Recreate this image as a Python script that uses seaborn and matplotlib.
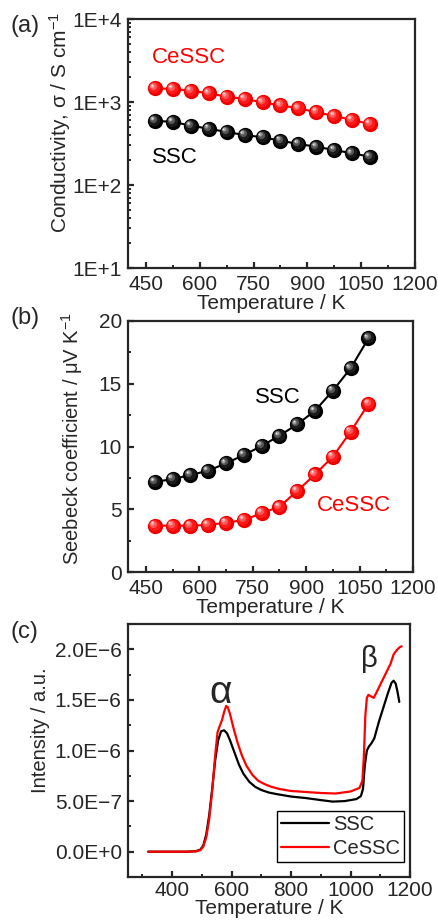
import numpy as np
import pandas as pd
import matplotlib
matplotlib.use("Agg")
import matplotlib.pyplot as plt
import matplotlib.transforms as mtransforms
from matplotlib.ticker import FixedLocator, MultipleLocator, FuncFormatter, LogLocator, NullFormatter
import seaborn as sns

# ---------------- data ----------------
temp_ab = [475, 525, 575, 625, 675, 725, 775, 825, 875, 925, 975, 1025, 1075]
cond_cessc = [1462, 1435, 1368, 1273, 1159, 1087, 991, 912, 840, 752, 678, 607, 543]
cond_ssc = [590, 579, 518, 477, 435, 400, 376, 342, 312, 289, 264, 241, 219]
seeb_ssc = [7.19, 7.39, 7.73, 8.07, 8.66, 9.32, 10.04, 10.86, 11.77, 12.85, 14.45, 16.23, 18.62]
seeb_cessc = [3.69, 3.69, 3.69, 3.75, 3.93, 4.14, 4.68, 5.20, 6.45, 7.78, 9.19, 11.18, 13.39]

tpr_x_ssc = [320, 450, 480, 495, 505, 515, 525, 535, 545, 555, 565, 575, 585, 595, 610, 625,
             640, 660, 680, 700, 725, 750, 800, 850, 900, 940, 980, 1020, 1035, 1042, 1048,
             1055, 1062, 1070, 1080, 1095, 1110, 1125, 1138, 1145, 1152, 1158, 1164]
tpr_y_ssc = [0, 0, 0.005, 0.02, 0.06, 0.17, 0.36, 0.62, 0.90, 1.10, 1.19, 1.20, 1.17, 1.10, 0.98, 0.86,
             0.77, 0.69, 0.64, 0.61, 0.585, 0.57, 0.545, 0.53, 0.51, 0.495, 0.50, 0.52, 0.55, 0.62, 0.85,
             1.00, 1.04, 1.07, 1.12, 1.28, 1.42, 1.56, 1.67, 1.69, 1.66, 1.58, 1.48]
tpr_x_cessc = [320, 450, 480, 495, 505, 515, 525, 535, 545, 553, 560, 568, 575, 582, 587, 595, 605,
               620, 635, 650, 670, 690, 710, 730, 760, 800, 850, 900, 950, 1000, 1030, 1040, 1045,
               1050, 1055, 1060, 1066, 1072, 1078, 1085, 1095, 1105, 1115, 1125, 1135, 1145, 1155,
               1165, 1172]
tpr_y_cessc = [0, 0, 0.003, 0.015, 0.05, 0.14, 0.32, 0.60, 0.95, 1.18, 1.24, 1.30, 1.38, 1.44, 1.43, 1.36,
               1.24, 1.08, 0.95, 0.85, 0.76, 0.70, 0.67, 0.645, 0.62, 0.60, 0.59, 0.58, 0.575, 0.595,
               0.63, 0.70, 0.95, 1.35, 1.52, 1.55, 1.54, 1.53, 1.52, 1.56, 1.62, 1.68, 1.74, 1.80, 1.86,
               1.95, 1.99, 2.02, 2.03]

series_names = ["SSC", "CeSSC"]
series_colors = {"SSC": "#000000", "CeSSC": "#ff0000"}

# ---------------- style ----------------
sns.set_style("ticks")
plt.rcParams["font.family"] = ["Liberation Sans", "DejaVu Sans"]
plt.rcParams["mathtext.fontset"] = "custom"
plt.rcParams["mathtext.rm"] = "Liberation Sans"
plt.rcParams["mathtext.it"] = "Liberation Sans"
plt.rcParams["axes.linewidth"] = 1.6
plt.rcParams["xtick.direction"] = "in"
plt.rcParams["ytick.direction"] = "in"
plt.rcParams["xtick.major.width"] = 1.6
plt.rcParams["ytick.major.width"] = 1.6
plt.rcParams["xtick.minor.width"] = 1.4
plt.rcParams["ytick.minor.width"] = 1.4
plt.rcParams["xtick.major.size"] = 4
plt.rcParams["ytick.major.size"] = 4
plt.rcParams["xtick.minor.size"] = 2.5
plt.rcParams["ytick.minor.size"] = 2.5

FS_TICK = 15
FS_XLAB = 15
FS_SER = 16

fig = plt.figure(figsize=(4.38, 9.24), dpi=100)
ax_a = fig.add_axes([128/438, 1-268/924, 287/438, 249/924])
ax_b = fig.add_axes([128/438, 1-572/924, 285/438, 251/924])
ax_c = fig.add_axes([128/438, 1-877/924, 282/438, 253/924])

ball_layers = {
    "SSC": [(11.0, "#000000", 0, 0), (8.2, "#1a1a1a", -0.6, 0.6), (5.2, "#555555", -1.4, 1.4),
            (2.9, "#9a9a9a", -2.0, 2.0), (1.3, "#e6e6e6", -2.3, 2.3)],
    "CeSSC": [(11.0, "#ee0000", 0, 0), (8.2, "#ff1a1a", -0.6, 0.6), (5.2, "#ff5555", -1.4, 1.4),
              (2.9, "#ff9a9a", -2.0, 2.0), (1.3, "#ffe6e6", -2.3, 2.3)],
}


def balls(ax, x, y, name):
    df = pd.DataFrame({"T": x, "v": y})
    sns.lineplot(data=df, x="T", y="v", ax=ax, color=series_colors[name], lw=1.5, zorder=2,
                 legend=False)
    for i, (ms, col, dx, dy) in enumerate(ball_layers[name]):
        tr = mtransforms.offset_copy(ax.transData, fig=fig, x=dx, y=dy, units="points")
        ax.plot(x, y, ls="none", marker="o", ms=ms, mfc=col, mec="none", transform=tr,
                zorder=3 + i)


def style_temp_axis(ax):
    ax.set_xlim(400, 1200)
    ax.xaxis.set_major_locator(FixedLocator([450, 600, 750, 900, 1050, 1200]))
    ax.xaxis.set_minor_locator(FixedLocator([525, 675, 825, 975, 1125]))
    ax.set_xlabel("Temperature / K", fontsize=FS_XLAB, labelpad=0)
    ax.tick_params(axis="x", labelsize=FS_TICK, pad=5)
    ax.tick_params(axis="y", labelsize=FS_TICK, pad=4.5)
    for s in ax.spines.values():
        s.set_visible(True)


# ---------------- (a) ----------------
balls(ax_a, temp_ab, cond_cessc, "CeSSC")
balls(ax_a, temp_ab, cond_ssc, "SSC")
ax_a.set_yscale("log")
ax_a.set_ylim(10, 1e4)
ax_a.yaxis.set_major_locator(FixedLocator([10, 100, 1000, 10000]))
ax_a.yaxis.set_minor_locator(LogLocator(base=10, subs=np.arange(2, 10), numticks=20))
ax_a.yaxis.set_minor_formatter(NullFormatter())
ax_a.yaxis.set_major_formatter(FuncFormatter(lambda v, p: "1E+%d" % int(round(np.log10(v)))))
style_temp_axis(ax_a)
ax_a.set_ylabel("Conductivity, σ / S cm$^{-1}$", fontsize=15)
ax_a.yaxis.set_label_coords(-0.19, 0.586)
ax_a.text(466, 3480, "CeSSC", color="#ff0000", fontsize=FS_SER, va="center", ha="left")
ax_a.text(468, 217, "SSC", color="#000000", fontsize=FS_SER, va="center", ha="left")

# ---------------- (b) ----------------
balls(ax_b, temp_ab, seeb_ssc, "SSC")
balls(ax_b, temp_ab, seeb_cessc, "CeSSC")
ax_b.set_ylim(0, 20)
ax_b.yaxis.set_major_locator(MultipleLocator(5))
ax_b.yaxis.set_minor_locator(MultipleLocator(2.5))
style_temp_axis(ax_b)
ax_b.set_ylabel("Seebeck coefficient / μV K$^{-1}$", fontsize=14.5)
ax_b.yaxis.set_label_coords(-0.152, 0.53)
ax_b.text(756, 13.9, "SSC", color="#000000", fontsize=FS_SER, va="center", ha="left")
ax_b.text(930, 5.3, "CeSSC", color="#ff0000", fontsize=FS_SER, va="center", ha="left")

# ---------------- (c) ----------------
df_s = pd.DataFrame({"T": tpr_x_ssc, "I": np.array(tpr_y_ssc) * 1e-6, "s": "SSC"})
df_c = pd.DataFrame({"T": tpr_x_cessc, "I": np.array(tpr_y_cessc) * 1e-6, "s": "CeSSC"})
df_tpr = pd.concat([df_s, df_c], ignore_index=True)
sns.lineplot(data=df_tpr, x="T", y="I", hue="s", hue_order=series_names, palette=series_colors,
             ax=ax_c, lw=1.6, sort=False, estimator=None)
ax_c.set_xlim(252, 1200)
ax_c.set_ylim(-2.5e-7, 2.25e-6)
ax_c.xaxis.set_major_locator(MultipleLocator(200))
ax_c.xaxis.set_minor_locator(MultipleLocator(100))
ax_c.yaxis.set_major_locator(FixedLocator([0, 5e-7, 1e-6, 1.5e-6, 2e-6]))
ax_c.yaxis.set_minor_locator(MultipleLocator(2.5e-7))


def sci_fmt(v, p):
    if abs(v) < 1e-15:
        return "0.0E+0"
    e = int(np.floor(np.log10(abs(v))))
    m = v / 10 ** e
    return "%.1fE%s%d" % (m, "−" if e < 0 else "+", abs(e))


ax_c.yaxis.set_major_formatter(FuncFormatter(sci_fmt))
ax_c.tick_params(axis="x", labelsize=FS_TICK, pad=3)
ax_c.tick_params(axis="y", labelsize=FS_TICK, pad=4.5)
ax_c.set_xlabel("Temperature / K", fontsize=FS_XLAB, labelpad=-1)
ax_c.set_ylabel("Intensity / a.u.", fontsize=14.5)
ax_c.yaxis.set_label_coords(-0.277, 0.58)
leg = ax_c.legend(title=None, loc="lower right", bbox_to_anchor=(0.979, 0.059), fontsize=14.5,
                  frameon=True, fancybox=False, framealpha=1, edgecolor="black",
                  handlelength=2.4, handletextpad=0.2, borderpad=0.2, labelspacing=0.25,
                  borderaxespad=0.0)
leg.get_frame().set_linewidth(1.0)
ax_c.text(565, 1.57e-6, "α", fontsize=28, ha="center", va="center")
ax_c.text(1065, 1.9e-6, "β", fontsize=21, ha="center", va="center")

# panel labels
fig.text(10/438, 1-26/924, "(a)", fontsize=17, va="center", ha="left")
fig.text(10/438, 1-318/924, "(b)", fontsize=17, va="center", ha="left")
fig.text(10/438, 1-632/924, "(c)", fontsize=17, va="center", ha="left")

fig.savefig("out.png", dpi=100)
